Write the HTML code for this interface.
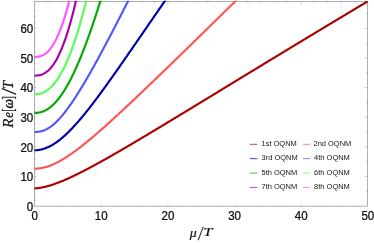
<!DOCTYPE html>
<html><head><meta charset="utf-8"><style>
html,body{margin:0;padding:0;background:#fff;}
body{width:374px;height:243px;overflow:hidden;font-family:"Liberation Sans",sans-serif;}
svg{display:block;}
.sans{font-family:"Liberation Sans",sans-serif;}
.ser{font-family:"Liberation Serif",serif;}
</style></head><body>
<svg width="374" height="243" viewBox="0 0 374 243">
<rect width="374" height="243" fill="#fff"/>
<defs><clipPath id="c"><rect x="34.09" y="0.80" width="333.86" height="205.70"/></clipPath></defs>

<g stroke="#8c8c8c" stroke-width="0.7" fill="none">
<rect x="34.44" y="1.40" width="333.16" height="204.75"/>
</g>
<g stroke="#8c8c8c" stroke-width="0.45">
<line x1="48.02" y1="206.15" x2="48.02" y2="205.15"/>
<line x1="48.02" y1="1.40" x2="48.02" y2="2.90"/>
<line x1="61.34" y1="206.15" x2="61.34" y2="205.15"/>
<line x1="61.34" y1="1.40" x2="61.34" y2="2.90"/>
<line x1="74.67" y1="206.15" x2="74.67" y2="205.15"/>
<line x1="74.67" y1="1.40" x2="74.67" y2="2.90"/>
<line x1="88.00" y1="206.15" x2="88.00" y2="205.15"/>
<line x1="88.00" y1="1.40" x2="88.00" y2="2.90"/>
<line x1="101.32" y1="206.15" x2="101.32" y2="204.55"/>
<line x1="101.32" y1="1.40" x2="101.32" y2="4.60"/>
<line x1="114.65" y1="206.15" x2="114.65" y2="205.15"/>
<line x1="114.65" y1="1.40" x2="114.65" y2="2.90"/>
<line x1="127.97" y1="206.15" x2="127.97" y2="205.15"/>
<line x1="127.97" y1="1.40" x2="127.97" y2="2.90"/>
<line x1="141.30" y1="206.15" x2="141.30" y2="205.15"/>
<line x1="141.30" y1="1.40" x2="141.30" y2="2.90"/>
<line x1="154.63" y1="206.15" x2="154.63" y2="205.15"/>
<line x1="154.63" y1="1.40" x2="154.63" y2="2.90"/>
<line x1="167.95" y1="206.15" x2="167.95" y2="204.55"/>
<line x1="167.95" y1="1.40" x2="167.95" y2="4.60"/>
<line x1="181.28" y1="206.15" x2="181.28" y2="205.15"/>
<line x1="181.28" y1="1.40" x2="181.28" y2="2.90"/>
<line x1="194.61" y1="206.15" x2="194.61" y2="205.15"/>
<line x1="194.61" y1="1.40" x2="194.61" y2="2.90"/>
<line x1="207.93" y1="206.15" x2="207.93" y2="205.15"/>
<line x1="207.93" y1="1.40" x2="207.93" y2="2.90"/>
<line x1="221.26" y1="206.15" x2="221.26" y2="205.15"/>
<line x1="221.26" y1="1.40" x2="221.26" y2="2.90"/>
<line x1="234.59" y1="206.15" x2="234.59" y2="204.55"/>
<line x1="234.59" y1="1.40" x2="234.59" y2="4.60"/>
<line x1="247.91" y1="206.15" x2="247.91" y2="205.15"/>
<line x1="247.91" y1="1.40" x2="247.91" y2="2.90"/>
<line x1="261.24" y1="206.15" x2="261.24" y2="205.15"/>
<line x1="261.24" y1="1.40" x2="261.24" y2="2.90"/>
<line x1="274.57" y1="206.15" x2="274.57" y2="205.15"/>
<line x1="274.57" y1="1.40" x2="274.57" y2="2.90"/>
<line x1="287.89" y1="206.15" x2="287.89" y2="205.15"/>
<line x1="287.89" y1="1.40" x2="287.89" y2="2.90"/>
<line x1="301.22" y1="206.15" x2="301.22" y2="204.55"/>
<line x1="301.22" y1="1.40" x2="301.22" y2="4.60"/>
<line x1="314.54" y1="206.15" x2="314.54" y2="205.15"/>
<line x1="314.54" y1="1.40" x2="314.54" y2="2.90"/>
<line x1="327.87" y1="206.15" x2="327.87" y2="205.15"/>
<line x1="327.87" y1="1.40" x2="327.87" y2="2.90"/>
<line x1="341.20" y1="206.15" x2="341.20" y2="205.15"/>
<line x1="341.20" y1="1.40" x2="341.20" y2="2.90"/>
<line x1="354.52" y1="206.15" x2="354.52" y2="205.15"/>
<line x1="354.52" y1="1.40" x2="354.52" y2="2.90"/>
<line x1="34.44" y1="200.15" x2="35.84" y2="200.15"/>
<line x1="34.44" y1="194.23" x2="35.84" y2="194.23"/>
<line x1="34.44" y1="188.30" x2="35.84" y2="188.30"/>
<line x1="34.44" y1="182.38" x2="35.84" y2="182.38"/>
<line x1="34.44" y1="176.46" x2="36.64" y2="176.46"/>
<line x1="34.44" y1="170.54" x2="35.84" y2="170.54"/>
<line x1="34.44" y1="164.62" x2="35.84" y2="164.62"/>
<line x1="34.44" y1="158.69" x2="35.84" y2="158.69"/>
<line x1="34.44" y1="152.77" x2="35.84" y2="152.77"/>
<line x1="34.44" y1="146.85" x2="36.64" y2="146.85"/>
<line x1="34.44" y1="140.93" x2="35.84" y2="140.93"/>
<line x1="34.44" y1="135.01" x2="35.84" y2="135.01"/>
<line x1="34.44" y1="129.08" x2="35.84" y2="129.08"/>
<line x1="34.44" y1="123.16" x2="35.84" y2="123.16"/>
<line x1="34.44" y1="117.24" x2="36.64" y2="117.24"/>
<line x1="34.44" y1="111.32" x2="35.84" y2="111.32"/>
<line x1="34.44" y1="105.40" x2="35.84" y2="105.40"/>
<line x1="34.44" y1="99.47" x2="35.84" y2="99.47"/>
<line x1="34.44" y1="93.55" x2="35.84" y2="93.55"/>
<line x1="34.44" y1="87.63" x2="36.64" y2="87.63"/>
<line x1="34.44" y1="81.71" x2="35.84" y2="81.71"/>
<line x1="34.44" y1="75.79" x2="35.84" y2="75.79"/>
<line x1="34.44" y1="69.86" x2="35.84" y2="69.86"/>
<line x1="34.44" y1="63.94" x2="35.84" y2="63.94"/>
<line x1="34.44" y1="58.02" x2="36.64" y2="58.02"/>
<line x1="34.44" y1="52.10" x2="35.84" y2="52.10"/>
<line x1="34.44" y1="46.18" x2="35.84" y2="46.18"/>
<line x1="34.44" y1="40.25" x2="35.84" y2="40.25"/>
<line x1="34.44" y1="34.33" x2="35.84" y2="34.33"/>
<line x1="34.44" y1="28.41" x2="36.64" y2="28.41"/>
<line x1="34.44" y1="22.49" x2="35.84" y2="22.49"/>
<line x1="34.44" y1="16.57" x2="35.84" y2="16.57"/>
<line x1="34.44" y1="10.64" x2="35.84" y2="10.64"/>
<line x1="34.44" y1="4.72" x2="35.84" y2="4.72"/>
<line x1="367.60" y1="191.26" x2="365.90" y2="191.26"/>
<line x1="367.60" y1="176.46" x2="364.30" y2="176.46"/>
<line x1="367.60" y1="161.66" x2="365.90" y2="161.66"/>
<line x1="367.60" y1="146.85" x2="364.30" y2="146.85"/>
<line x1="367.60" y1="132.05" x2="365.90" y2="132.05"/>
<line x1="367.60" y1="117.24" x2="364.30" y2="117.24"/>
<line x1="367.60" y1="102.44" x2="365.90" y2="102.44"/>
<line x1="367.60" y1="87.63" x2="364.30" y2="87.63"/>
<line x1="367.60" y1="72.82" x2="365.90" y2="72.82"/>
<line x1="367.60" y1="58.02" x2="364.30" y2="58.02"/>
<line x1="367.60" y1="43.22" x2="365.90" y2="43.22"/>
<line x1="367.60" y1="28.41" x2="364.30" y2="28.41"/>
<line x1="367.60" y1="13.60" x2="365.90" y2="13.60"/>
</g>
<g clip-path="url(#c)" fill="none" stroke-width="2.15" stroke-linejoin="round">
<path d="M34.44 188.37 L35.11 188.36 L35.77 188.32 L36.44 188.28 L37.11 188.22 L37.77 188.16 L38.44 188.08 L39.10 187.99 L39.77 187.90 L40.44 187.79 L41.10 187.68 L41.77 187.56 L42.44 187.43 L43.10 187.29 L43.77 187.15 L44.43 187.00 L45.10 186.84 L45.77 186.68 L46.43 186.51 L47.10 186.33 L47.77 186.15 L48.43 185.96 L49.10 185.77 L49.77 185.57 L50.43 185.37 L51.10 185.16 L51.76 184.95 L52.43 184.73 L53.10 184.51 L53.76 184.28 L54.43 184.05 L55.10 183.81 L55.76 183.57 L56.43 183.33 L57.09 183.08 L57.76 182.83 L58.43 182.58 L59.09 182.32 L59.76 182.05 L60.43 181.79 L61.09 181.52 L61.76 181.25 L62.43 180.97 L63.09 180.69 L63.76 180.41 L64.42 180.13 L65.09 179.84 L65.76 179.55 L66.42 179.26 L67.09 178.96 L67.76 178.66 L68.42 178.36 L69.09 178.06 L69.75 177.75 L70.42 177.45 L71.09 177.14 L71.75 176.82 L72.42 176.51 L73.09 176.19 L73.75 175.88 L74.42 175.56 L75.09 175.23 L75.75 174.91 L76.42 174.59 L77.08 174.26 L77.75 173.93 L78.42 173.60 L79.08 173.27 L79.75 172.93 L80.42 172.60 L81.08 172.26 L81.75 171.92 L82.42 171.58 L83.08 171.24 L83.75 170.89 L84.41 170.55 L85.08 170.20 L85.75 169.86 L86.41 169.51 L87.08 169.16 L87.75 168.81 L88.41 168.46 L89.08 168.10 L89.74 167.75 L90.41 167.40 L91.08 167.04 L91.74 166.68 L92.41 166.32 L93.08 165.96 L93.74 165.60 L94.41 165.24 L95.08 164.88 L95.74 164.52 L96.41 164.15 L97.07 163.79 L97.74 163.42 L98.41 163.06 L99.07 162.69 L99.74 162.32 L100.41 161.95 L101.07 161.58 L101.74 161.21 L102.40 160.84 L103.07 160.47 L103.74 160.09 L104.40 159.72 L105.07 159.35 L105.74 158.97 L106.40 158.60 L107.07 158.22 L107.74 157.84 L108.40 157.47 L109.07 157.09 L109.73 156.71 L110.40 156.33 L111.07 155.95 L111.73 155.57 L112.40 155.19 L113.07 154.81 L113.73 154.43 L114.40 154.05 L115.06 153.66 L115.73 153.28 L116.40 152.90 L117.06 152.51 L117.73 152.13 L118.40 151.74 L119.06 151.36 L119.73 150.97 L120.40 150.58 L121.06 150.20 L121.73 149.81 L122.39 149.42 L123.06 149.03 L123.73 148.65 L124.39 148.26 L125.06 147.87 L125.73 147.48 L126.39 147.09 L127.06 146.70 L127.72 146.31 L128.39 145.92 L129.06 145.53 L129.72 145.13 L130.39 144.74 L131.06 144.35 L131.72 143.96 L132.39 143.57 L133.06 143.17 L133.72 142.78 L134.39 142.39 L135.05 141.99 L135.72 141.60 L136.39 141.20 L137.05 140.81 L137.72 140.41 L138.39 140.02 L139.05 139.62 L139.72 139.23 L140.38 138.83 L141.05 138.44 L141.72 138.04 L142.38 137.64 L143.05 137.25 L143.72 136.85 L144.38 136.45 L145.05 136.06 L145.72 135.66 L146.38 135.26 L147.05 134.86 L147.71 134.46 L148.38 134.07 L149.05 133.67 L149.71 133.27 L150.38 132.87 L151.05 132.47 L151.71 132.07 L152.38 131.67 L153.04 131.27 L153.71 130.87 L154.38 130.47 L155.04 130.07 L155.71 129.67 L156.38 129.27 L157.04 128.87 L157.71 128.47 L158.38 128.07 L159.04 127.67 L159.71 127.27 L160.37 126.87 L161.04 126.47 L161.71 126.06 L162.37 125.66 L163.04 125.26 L163.71 124.86 L164.37 124.46 L165.04 124.05 L165.71 123.65 L166.37 123.25 L167.04 122.85 L167.70 122.45 L168.37 122.04 L169.04 121.64 L169.70 121.24 L170.37 120.83 L171.04 120.43 L171.70 120.03 L172.37 119.63 L173.03 119.22 L173.70 118.82 L174.37 118.42 L175.03 118.01 L175.70 117.61 L176.37 117.20 L177.03 116.80 L177.70 116.40 L178.37 115.99 L179.03 115.59 L179.70 115.19 L180.36 114.78 L181.03 114.38 L181.70 113.97 L182.36 113.57 L183.03 113.16 L183.70 112.76 L184.36 112.36 L185.03 111.95 L185.69 111.55 L186.36 111.14 L187.03 110.74 L187.69 110.33 L188.36 109.93 L189.03 109.52 L189.69 109.12 L190.36 108.71 L191.03 108.31 L191.69 107.90 L192.36 107.50 L193.02 107.09 L193.69 106.69 L194.36 106.28 L195.02 105.88 L195.69 105.47 L196.36 105.07 L197.02 104.66 L197.69 104.25 L198.35 103.85 L199.02 103.44 L199.69 103.04 L200.35 102.63 L201.02 102.23 L201.69 101.82 L202.35 101.42 L203.02 101.01 L203.69 100.60 L204.35 100.20 L205.02 99.79 L205.68 99.39 L206.35 98.98 L207.02 98.58 L207.68 98.17 L208.35 97.76 L209.02 97.36 L209.68 96.95 L210.35 96.55 L211.01 96.14 L211.68 95.74 L212.35 95.33 L213.01 94.92 L213.68 94.52 L214.35 94.11 L215.01 93.71 L215.68 93.30 L216.35 92.89 L217.01 92.49 L217.68 92.08 L218.34 91.68 L219.01 91.27 L219.68 90.86 L220.34 90.46 L221.01 90.05 L221.68 89.65 L222.34 89.24 L223.01 88.83 L223.67 88.43 L224.34 88.02 L225.01 87.62 L225.67 87.21 L226.34 86.80 L227.01 86.40 L227.67 85.99 L228.34 85.59 L229.01 85.18 L229.67 84.77 L230.34 84.37 L231.00 83.96 L231.67 83.56 L232.34 83.15 L233.00 82.74 L233.67 82.34 L234.34 81.93 L235.00 81.53 L235.67 81.12 L236.33 80.71 L237.00 80.31 L237.67 79.90 L238.33 79.50 L239.00 79.09 L239.67 78.69 L240.33 78.28 L241.00 77.87 L241.67 77.47 L242.33 77.06 L243.00 76.66 L243.66 76.25 L244.33 75.84 L245.00 75.44 L245.66 75.03 L246.33 74.63 L247.00 74.22 L247.66 73.82 L248.33 73.41 L249.00 73.01 L249.66 72.60 L250.33 72.19 L250.99 71.79 L251.66 71.38 L252.33 70.98 L252.99 70.57 L253.66 70.17 L254.33 69.76 L254.99 69.36 L255.66 68.95 L256.32 68.55 L256.99 68.14 L257.66 67.73 L258.32 67.33 L258.99 66.92 L259.66 66.52 L260.32 66.11 L260.99 65.71 L261.66 65.30 L262.32 64.90 L262.99 64.49 L263.65 64.09 L264.32 63.68 L264.99 63.28 L265.65 62.87 L266.32 62.47 L266.99 62.06 L267.65 61.66 L268.32 61.25 L268.98 60.85 L269.65 60.44 L270.32 60.04 L270.98 59.64 L271.65 59.23 L272.32 58.83 L272.98 58.42 L273.65 58.02 L274.32 57.61 L274.98 57.21 L275.65 56.80 L276.31 56.40 L276.98 55.99 L277.65 55.59 L278.31 55.19 L278.98 54.78 L279.65 54.38 L280.31 53.97 L280.98 53.57 L281.64 53.16 L282.31 52.76 L282.98 52.36 L283.64 51.95 L284.31 51.55 L284.98 51.14 L285.64 50.74 L286.31 50.34 L286.98 49.93 L287.64 49.53 L288.31 49.13 L288.97 48.72 L289.64 48.32 L290.31 47.91 L290.97 47.51 L291.64 47.11 L292.31 46.70 L292.97 46.30 L293.64 45.90 L294.30 45.49 L294.97 45.09 L295.64 44.69 L296.30 44.28 L296.97 43.88 L297.64 43.48 L298.30 43.07 L298.97 42.67 L299.64 42.27 L300.30 41.87 L300.97 41.46 L301.63 41.06 L302.30 40.66 L302.97 40.25 L303.63 39.85 L304.30 39.45 L304.97 39.05 L305.63 38.64 L306.30 38.24 L306.96 37.84 L307.63 37.44 L308.30 37.03 L308.96 36.63 L309.63 36.23 L310.30 35.83 L310.96 35.42 L311.63 35.02 L312.30 34.62 L312.96 34.22 L313.63 33.81 L314.29 33.41 L314.96 33.01 L315.63 32.61 L316.29 32.21 L316.96 31.80 L317.63 31.40 L318.29 31.00 L318.96 30.60 L319.62 30.20 L320.29 29.80 L320.96 29.39 L321.62 28.99 L322.29 28.59 L322.96 28.19 L323.62 27.79 L324.29 27.39 L324.96 26.99 L325.62 26.59 L326.29 26.18 L326.95 25.78 L327.62 25.38 L328.29 24.98 L328.95 24.58 L329.62 24.18 L330.29 23.78 L330.95 23.38 L331.62 22.98 L332.29 22.58 L332.95 22.18 L333.62 21.78 L334.28 21.37 L334.95 20.97 L335.62 20.57 L336.28 20.17 L336.95 19.77 L337.62 19.37 L338.28 18.97 L338.95 18.57 L339.61 18.17 L340.28 17.77 L340.95 17.37 L341.61 16.97 L342.28 16.57 L342.95 16.17 L343.61 15.77 L344.28 15.37 L344.95 14.97 L345.61 14.57 L346.28 14.17 L346.94 13.77 L347.61 13.38 L348.28 12.98 L348.94 12.58 L349.61 12.18 L350.28 11.78 L350.94 11.38 L351.61 10.98 L352.27 10.58 L352.94 10.18 L353.61 9.78 L354.27 9.38 L354.94 8.98 L355.61 8.59 L356.27 8.19 L356.94 7.79 L357.61 7.39 L358.27 6.99 L358.94 6.59 L359.60 6.19 L360.27 5.80 L360.94 5.40 L361.60 5.00 L362.27 4.60 L362.94 4.20 L363.60 3.80 L364.27 3.41 L364.93 3.01 L365.60 2.61 L366.27 2.21 L366.93 1.81 L367.60 1.42" stroke="#aa0000"/>
<path d="M34.44 168.65 L35.11 168.65 L35.77 168.63 L36.44 168.60 L37.11 168.57 L37.77 168.52 L38.44 168.45 L39.10 168.38 L39.77 168.30 L40.44 168.21 L41.10 168.10 L41.77 167.98 L42.44 167.86 L43.10 167.72 L43.77 167.57 L44.43 167.41 L45.10 167.24 L45.77 167.06 L46.43 166.87 L47.10 166.67 L47.77 166.45 L48.43 166.23 L49.10 166.00 L49.77 165.76 L50.43 165.51 L51.10 165.25 L51.76 164.99 L52.43 164.71 L53.10 164.42 L53.76 164.13 L54.43 163.83 L55.10 163.51 L55.76 163.19 L56.43 162.87 L57.09 162.53 L57.76 162.19 L58.43 161.84 L59.09 161.48 L59.76 161.12 L60.43 160.75 L61.09 160.37 L61.76 159.98 L62.43 159.59 L63.09 159.19 L63.76 158.79 L64.42 158.38 L65.09 157.96 L65.76 157.54 L66.42 157.11 L67.09 156.68 L67.76 156.24 L68.42 155.80 L69.09 155.35 L69.75 154.90 L70.42 154.44 L71.09 153.98 L71.75 153.51 L72.42 153.04 L73.09 152.57 L73.75 152.09 L74.42 151.60 L75.09 151.11 L75.75 150.62 L76.42 150.13 L77.08 149.63 L77.75 149.12 L78.42 148.62 L79.08 148.11 L79.75 147.59 L80.42 147.08 L81.08 146.56 L81.75 146.04 L82.42 145.51 L83.08 144.98 L83.75 144.45 L84.41 143.92 L85.08 143.38 L85.75 142.84 L86.41 142.30 L87.08 141.75 L87.75 141.21 L88.41 140.66 L89.08 140.10 L89.74 139.55 L90.41 138.99 L91.08 138.44 L91.74 137.88 L92.41 137.31 L93.08 136.75 L93.74 136.18 L94.41 135.61 L95.08 135.04 L95.74 134.47 L96.41 133.90 L97.07 133.32 L97.74 132.74 L98.41 132.17 L99.07 131.59 L99.74 131.00 L100.41 130.42 L101.07 129.83 L101.74 129.25 L102.40 128.66 L103.07 128.07 L103.74 127.48 L104.40 126.89 L105.07 126.30 L105.74 125.70 L106.40 125.10 L107.07 124.51 L107.74 123.91 L108.40 123.31 L109.07 122.71 L109.73 122.11 L110.40 121.51 L111.07 120.90 L111.73 120.30 L112.40 119.69 L113.07 119.08 L113.73 118.48 L114.40 117.87 L115.06 117.26 L115.73 116.65 L116.40 116.04 L117.06 115.42 L117.73 114.81 L118.40 114.20 L119.06 113.58 L119.73 112.97 L120.40 112.35 L121.06 111.73 L121.73 111.12 L122.39 110.50 L123.06 109.88 L123.73 109.26 L124.39 108.64 L125.06 108.02 L125.73 107.39 L126.39 106.77 L127.06 106.15 L127.72 105.52 L128.39 104.90 L129.06 104.27 L129.72 103.65 L130.39 103.02 L131.06 102.39 L131.72 101.77 L132.39 101.14 L133.06 100.51 L133.72 99.88 L134.39 99.25 L135.05 98.62 L135.72 97.99 L136.39 97.36 L137.05 96.73 L137.72 96.10 L138.39 95.47 L139.05 94.83 L139.72 94.20 L140.38 93.57 L141.05 92.93 L141.72 92.30 L142.38 91.66 L143.05 91.03 L143.72 90.39 L144.38 89.76 L145.05 89.12 L145.72 88.48 L146.38 87.85 L147.05 87.21 L147.71 86.57 L148.38 85.93 L149.05 85.29 L149.71 84.66 L150.38 84.02 L151.05 83.38 L151.71 82.74 L152.38 82.10 L153.04 81.46 L153.71 80.82 L154.38 80.18 L155.04 79.54 L155.71 78.89 L156.38 78.25 L157.04 77.61 L157.71 76.97 L158.38 76.33 L159.04 75.68 L159.71 75.04 L160.37 74.40 L161.04 73.75 L161.71 73.11 L162.37 72.47 L163.04 71.82 L163.71 71.18 L164.37 70.53 L165.04 69.89 L165.71 69.24 L166.37 68.60 L167.04 67.95 L167.70 67.31 L168.37 66.66 L169.04 66.02 L169.70 65.37 L170.37 64.73 L171.04 64.08 L171.70 63.43 L172.37 62.79 L173.03 62.14 L173.70 61.49 L174.37 60.84 L175.03 60.20 L175.70 59.55 L176.37 58.90 L177.03 58.25 L177.70 57.61 L178.37 56.96 L179.03 56.31 L179.70 55.66 L180.36 55.01 L181.03 54.37 L181.70 53.72 L182.36 53.07 L183.03 52.42 L183.70 51.77 L184.36 51.12 L185.03 50.47 L185.69 49.82 L186.36 49.17 L187.03 48.52 L187.69 47.87 L188.36 47.22 L189.03 46.57 L189.69 45.92 L190.36 45.27 L191.03 44.62 L191.69 43.97 L192.36 43.32 L193.02 42.67 L193.69 42.02 L194.36 41.37 L195.02 40.72 L195.69 40.07 L196.36 39.42 L197.02 38.77 L197.69 38.11 L198.35 37.46 L199.02 36.81 L199.69 36.16 L200.35 35.51 L201.02 34.86 L201.69 34.21 L202.35 33.55 L203.02 32.90 L203.69 32.25 L204.35 31.60 L205.02 30.95 L205.68 30.30 L206.35 29.64 L207.02 28.99 L207.68 28.34 L208.35 27.69 L209.02 27.03 L209.68 26.38 L210.35 25.73 L211.01 25.08 L211.68 24.43 L212.35 23.77 L213.01 23.12 L213.68 22.47 L214.35 21.82 L215.01 21.16 L215.68 20.51 L216.35 19.86 L217.01 19.20 L217.68 18.55 L218.34 17.90 L219.01 17.25 L219.68 16.59 L220.34 15.94 L221.01 15.29 L221.68 14.63 L222.34 13.98 L223.01 13.33 L223.67 12.68 L224.34 12.02 L225.01 11.37 L225.67 10.72 L226.34 10.06 L227.01 9.41 L227.67 8.76 L228.34 8.10 L229.01 7.45 L229.67 6.80 L230.34 6.14 L231.00 5.49 L231.67 4.84 L232.34 4.18 L233.00 3.53 L233.67 2.88 L234.34 2.22 L235.00 1.57 L235.67 0.92 L236.33 0.26 L237.00 -0.39 L237.67 -1.04 L238.33 -1.70 L239.00 -2.35 L239.67 -3.00 L240.33 -3.66 L241.00 -4.31 L241.67 -4.96 L242.33 -5.62 L243.00 -6.27 L243.66 -6.92 L244.33 -7.58 L245.00 -8.23 L245.66 -8.88 L246.33 -9.54 L247.00 -10.19 L247.66 -10.84 L248.33 -11.50 L249.00 -12.15 L249.66 -12.80 L250.33 -13.46 L250.99 -14.11 L251.66 -14.76 L252.33 -15.42 L252.99 -16.07 L253.66 -16.72" stroke="#ff5555"/>
<path d="M34.44 150.29 L35.11 150.28 L35.77 150.26 L36.44 150.23 L37.11 150.17 L37.77 150.11 L38.44 150.02 L39.10 149.93 L39.77 149.81 L40.44 149.69 L41.10 149.54 L41.77 149.38 L42.44 149.21 L43.10 149.02 L43.77 148.82 L44.43 148.60 L45.10 148.37 L45.77 148.12 L46.43 147.86 L47.10 147.58 L47.77 147.29 L48.43 146.99 L49.10 146.67 L49.77 146.33 L50.43 145.99 L51.10 145.63 L51.76 145.25 L52.43 144.87 L53.10 144.47 L53.76 144.05 L54.43 143.63 L55.10 143.19 L55.76 142.74 L56.43 142.28 L57.09 141.80 L57.76 141.31 L58.43 140.81 L59.09 140.30 L59.76 139.78 L60.43 139.25 L61.09 138.71 L61.76 138.15 L62.43 137.59 L63.09 137.01 L63.76 136.43 L64.42 135.83 L65.09 135.23 L65.76 134.61 L66.42 133.99 L67.09 133.35 L67.76 132.71 L68.42 132.06 L69.09 131.40 L69.75 130.73 L70.42 130.06 L71.09 129.37 L71.75 128.68 L72.42 127.98 L73.09 127.27 L73.75 126.55 L74.42 125.83 L75.09 125.10 L75.75 124.36 L76.42 123.62 L77.08 122.87 L77.75 122.11 L78.42 121.35 L79.08 120.58 L79.75 119.80 L80.42 119.02 L81.08 118.23 L81.75 117.44 L82.42 116.64 L83.08 115.84 L83.75 115.03 L84.41 114.22 L85.08 113.40 L85.75 112.57 L86.41 111.74 L87.08 110.91 L87.75 110.07 L88.41 109.23 L89.08 108.39 L89.74 107.53 L90.41 106.68 L91.08 105.82 L91.74 104.96 L92.41 104.09 L93.08 103.22 L93.74 102.35 L94.41 101.47 L95.08 100.59 L95.74 99.71 L96.41 98.82 L97.07 97.93 L97.74 97.04 L98.41 96.15 L99.07 95.25 L99.74 94.35 L100.41 93.44 L101.07 92.54 L101.74 91.63 L102.40 90.72 L103.07 89.80 L103.74 88.89 L104.40 87.97 L105.07 87.05 L105.74 86.12 L106.40 85.20 L107.07 84.27 L107.74 83.35 L108.40 82.42 L109.07 81.48 L109.73 80.55 L110.40 79.61 L111.07 78.68 L111.73 77.74 L112.40 76.80 L113.07 75.86 L113.73 74.91 L114.40 73.97 L115.06 73.02 L115.73 72.08 L116.40 71.13 L117.06 70.18 L117.73 69.23 L118.40 68.28 L119.06 67.32 L119.73 66.37 L120.40 65.41 L121.06 64.46 L121.73 63.50 L122.39 62.54 L123.06 61.59 L123.73 60.63 L124.39 59.67 L125.06 58.71 L125.73 57.75 L126.39 56.78 L127.06 55.82 L127.72 54.86 L128.39 53.90 L129.06 52.93 L129.72 51.97 L130.39 51.00 L131.06 50.04 L131.72 49.07 L132.39 48.11 L133.06 47.14 L133.72 46.17 L134.39 45.21 L135.05 44.24 L135.72 43.27 L136.39 42.31 L137.05 41.34 L137.72 40.37 L138.39 39.40 L139.05 38.44 L139.72 37.47 L140.38 36.50 L141.05 35.53 L141.72 34.56 L142.38 33.60 L143.05 32.63 L143.72 31.66 L144.38 30.69 L145.05 29.72 L145.72 28.76 L146.38 27.79 L147.05 26.82 L147.71 25.85 L148.38 24.89 L149.05 23.92 L149.71 22.95 L150.38 21.99 L151.05 21.02 L151.71 20.05 L152.38 19.09 L153.04 18.12 L153.71 17.16 L154.38 16.19 L155.04 15.23 L155.71 14.27 L156.38 13.30 L157.04 12.34 L157.71 11.38 L158.38 10.41 L159.04 9.45 L159.71 8.49 L160.37 7.53 L161.04 6.57 L161.71 5.61 L162.37 4.65 L163.04 3.69 L163.71 2.73 L164.37 1.77 L165.04 0.82 L165.71 -0.14 L166.37 -1.10 L167.04 -2.05 L167.70 -3.01 L168.37 -3.96 L169.04 -4.92 L169.70 -5.87 L170.37 -6.82 L171.04 -7.77 L171.70 -8.73 L172.37 -9.68 L173.03 -10.63 L173.70 -11.58 L174.37 -12.53 L175.03 -13.47 L175.70 -14.42 L176.37 -15.37 L177.03 -16.31 L177.70 -17.26" stroke="#0000aa"/>
<path d="M34.44 131.98 L35.11 131.97 L35.77 131.96 L36.44 131.93 L37.11 131.89 L37.77 131.83 L38.44 131.75 L39.10 131.66 L39.77 131.54 L40.44 131.41 L41.10 131.26 L41.77 131.08 L42.44 130.89 L43.10 130.67 L43.77 130.43 L44.43 130.17 L45.10 129.89 L45.77 129.59 L46.43 129.27 L47.10 128.92 L47.77 128.55 L48.43 128.16 L49.10 127.75 L49.77 127.31 L50.43 126.86 L51.10 126.38 L51.76 125.88 L52.43 125.36 L53.10 124.82 L53.76 124.26 L54.43 123.68 L55.10 123.08 L55.76 122.47 L56.43 121.83 L57.09 121.17 L57.76 120.50 L58.43 119.81 L59.09 119.10 L59.76 118.37 L60.43 117.63 L61.09 116.87 L61.76 116.09 L62.43 115.30 L63.09 114.49 L63.76 113.67 L64.42 112.84 L65.09 111.99 L65.76 111.13 L66.42 110.25 L67.09 109.36 L67.76 108.46 L68.42 107.55 L69.09 106.62 L69.75 105.68 L70.42 104.74 L71.09 103.78 L71.75 102.81 L72.42 101.83 L73.09 100.84 L73.75 99.84 L74.42 98.83 L75.09 97.81 L75.75 96.78 L76.42 95.74 L77.08 94.70 L77.75 93.65 L78.42 92.59 L79.08 91.52 L79.75 90.44 L80.42 89.36 L81.08 88.27 L81.75 87.17 L82.42 86.07 L83.08 84.96 L83.75 83.84 L84.41 82.72 L85.08 81.59 L85.75 80.46 L86.41 79.32 L87.08 78.17 L87.75 77.02 L88.41 75.86 L89.08 74.70 L89.74 73.53 L90.41 72.36 L91.08 71.19 L91.74 70.01 L92.41 68.82 L93.08 67.63 L93.74 66.44 L94.41 65.24 L95.08 64.04 L95.74 62.84 L96.41 61.63 L97.07 60.41 L97.74 59.20 L98.41 57.98 L99.07 56.75 L99.74 55.52 L100.41 54.29 L101.07 53.06 L101.74 51.82 L102.40 50.58 L103.07 49.34 L103.74 48.09 L104.40 46.85 L105.07 45.59 L105.74 44.34 L106.40 43.08 L107.07 41.82 L107.74 40.56 L108.40 39.30 L109.07 38.03 L109.73 36.76 L110.40 35.49 L111.07 34.21 L111.73 32.93 L112.40 31.66 L113.07 30.37 L113.73 29.09 L114.40 27.80 L115.06 26.52 L115.73 25.23 L116.40 23.94 L117.06 22.64 L117.73 21.35 L118.40 20.05 L119.06 18.75 L119.73 17.45 L120.40 16.15 L121.06 14.84 L121.73 13.53 L122.39 12.23 L123.06 10.92 L123.73 9.60 L124.39 8.29 L125.06 6.98 L125.73 5.66 L126.39 4.34 L127.06 3.02 L127.72 1.70 L128.39 0.38 L129.06 -0.94 L129.72 -2.27 L130.39 -3.60 L131.06 -4.92 L131.72 -6.25 L132.39 -7.58 L133.06 -8.92 L133.72 -10.25 L134.39 -11.59 L135.05 -12.92 L135.72 -14.26 L136.39 -15.60 L137.05 -16.94" stroke="#5555ff"/>
<path d="M34.44 112.93 L35.11 112.92 L35.77 112.90 L36.44 112.87 L37.11 112.81 L37.77 112.74 L38.44 112.65 L39.10 112.53 L39.77 112.40 L40.44 112.24 L41.10 112.06 L41.77 111.86 L42.44 111.64 L43.10 111.39 L43.77 111.12 L44.43 110.83 L45.10 110.51 L45.77 110.17 L46.43 109.81 L47.10 109.41 L47.77 109.00 L48.43 108.56 L49.10 108.09 L49.77 107.60 L50.43 107.08 L51.10 106.54 L51.76 105.97 L52.43 105.38 L53.10 104.76 L53.76 104.11 L54.43 103.44 L55.10 102.75 L55.76 102.02 L56.43 101.28 L57.09 100.50 L57.76 99.70 L58.43 98.88 L59.09 98.03 L59.76 97.15 L60.43 96.25 L61.09 95.32 L61.76 94.36 L62.43 93.38 L63.09 92.38 L63.76 91.35 L64.42 90.30 L65.09 89.22 L65.76 88.11 L66.42 86.98 L67.09 85.83 L67.76 84.65 L68.42 83.45 L69.09 82.23 L69.75 80.98 L70.42 79.70 L71.09 78.40 L71.75 77.08 L72.42 75.74 L73.09 74.37 L73.75 72.98 L74.42 71.57 L75.09 70.13 L75.75 68.68 L76.42 67.20 L77.08 65.70 L77.75 64.17 L78.42 62.63 L79.08 61.06 L79.75 59.47 L80.42 57.86 L81.08 56.23 L81.75 54.58 L82.42 52.91 L83.08 51.22 L83.75 49.51 L84.41 47.78 L85.08 46.03 L85.75 44.26 L86.41 42.47 L87.08 40.67 L87.75 38.84 L88.41 37.00 L89.08 35.13 L89.74 33.25 L90.41 31.35 L91.08 29.44 L91.74 27.50 L92.41 25.55 L93.08 23.58 L93.74 21.59 L94.41 19.59 L95.08 17.57 L95.74 15.54 L96.41 13.48 L97.07 11.42 L97.74 9.33 L98.41 7.23 L99.07 5.12 L99.74 2.99 L100.41 0.84 L101.07 -1.32 L101.74 -3.49 L102.40 -5.68 L103.07 -7.89 L103.74 -10.11 L104.40 -12.34 L105.07 -14.59 L105.74 -16.85" stroke="#00aa00"/>
<path d="M34.44 94.25 L35.11 94.24 L35.77 94.23 L36.44 94.19 L37.11 94.14 L37.77 94.06 L38.44 93.97 L39.10 93.85 L39.77 93.71 L40.44 93.55 L41.10 93.36 L41.77 93.14 L42.44 92.90 L43.10 92.63 L43.77 92.33 L44.43 92.00 L45.10 91.64 L45.77 91.26 L46.43 90.84 L47.10 90.40 L47.77 89.92 L48.43 89.41 L49.10 88.87 L49.77 88.30 L50.43 87.70 L51.10 87.06 L51.76 86.39 L52.43 85.69 L53.10 84.95 L53.76 84.18 L54.43 83.38 L55.10 82.54 L55.76 81.66 L56.43 80.75 L57.09 79.80 L57.76 78.82 L58.43 77.80 L59.09 76.75 L59.76 75.66 L60.43 74.53 L61.09 73.37 L61.76 72.17 L62.43 70.93 L63.09 69.65 L63.76 68.34 L64.42 66.99 L65.09 65.60 L65.76 64.17 L66.42 62.70 L67.09 61.20 L67.76 59.65 L68.42 58.07 L69.09 56.45 L69.75 54.78 L70.42 53.08 L71.09 51.34 L71.75 49.56 L72.42 47.74 L73.09 45.88 L73.75 43.98 L74.42 42.04 L75.09 40.06 L75.75 38.04 L76.42 35.97 L77.08 33.87 L77.75 31.73 L78.42 29.54 L79.08 27.32 L79.75 25.05 L80.42 22.75 L81.08 20.40 L81.75 18.01 L82.42 15.58 L83.08 13.10 L83.75 10.59 L84.41 8.04 L85.08 5.44 L85.75 2.80 L86.41 0.12 L87.08 -2.60 L87.75 -5.36 L88.41 -8.17 L89.08 -11.02 L89.74 -13.91 L90.41 -16.84" stroke="#55ff55"/>
<path d="M34.44 75.57 L35.11 75.57 L35.77 75.55 L36.44 75.52 L37.11 75.48 L37.77 75.41 L38.44 75.32 L39.10 75.21 L39.77 75.08 L40.44 74.91 L41.10 74.72 L41.77 74.50 L42.44 74.24 L43.10 73.96 L43.77 73.63 L44.43 73.28 L45.10 72.89 L45.77 72.46 L46.43 71.99 L47.10 71.48 L47.77 70.93 L48.43 70.34 L49.10 69.70 L49.77 69.03 L50.43 68.31 L51.10 67.54 L51.76 66.73 L52.43 65.87 L53.10 64.96 L53.76 64.00 L54.43 63.00 L55.10 61.94 L55.76 60.84 L56.43 59.68 L57.09 58.47 L57.76 57.21 L58.43 55.89 L59.09 54.53 L59.76 53.10 L60.43 51.63 L61.09 50.10 L61.76 48.51 L62.43 46.86 L63.09 45.16 L63.76 43.41 L64.42 41.59 L65.09 39.72 L65.76 37.79 L66.42 35.80 L67.09 33.75 L67.76 31.65 L68.42 29.48 L69.09 27.26 L69.75 24.97 L70.42 22.63 L71.09 20.23 L71.75 17.76 L72.42 15.24 L73.09 12.65 L73.75 10.00 L74.42 7.30 L75.09 4.53 L75.75 1.70 L76.42 -1.19 L77.08 -4.14 L77.75 -7.15 L78.42 -10.22 L79.08 -13.36 L79.75 -16.55" stroke="#aa00aa"/>
<path d="M34.44 56.92 L35.11 56.91 L35.77 56.90 L36.44 56.86 L37.11 56.81 L37.77 56.73 L38.44 56.63 L39.10 56.50 L39.77 56.34 L40.44 56.15 L41.10 55.93 L41.77 55.67 L42.44 55.38 L43.10 55.05 L43.77 54.68 L44.43 54.27 L45.10 53.82 L45.77 53.32 L46.43 52.78 L47.10 52.19 L47.77 51.56 L48.43 50.88 L49.10 50.16 L49.77 49.38 L50.43 48.55 L51.10 47.67 L51.76 46.74 L52.43 45.75 L53.10 44.71 L53.76 43.61 L54.43 42.46 L55.10 41.25 L55.76 39.98 L56.43 38.66 L57.09 37.27 L57.76 35.82 L58.43 34.32 L59.09 32.75 L59.76 31.12 L60.43 29.42 L61.09 27.66 L61.76 25.84 L62.43 23.95 L63.09 22.00 L63.76 19.98 L64.42 17.90 L65.09 15.75 L65.76 13.53 L66.42 11.24 L67.09 8.88 L67.76 6.46 L68.42 3.96 L69.09 1.40 L69.75 -1.24 L70.42 -3.94 L71.09 -6.72 L71.75 -9.57 L72.42 -12.49 L73.09 -15.48 L73.75 -18.54" stroke="#ff55ff"/>
</g>
<text class="sans" transform="translate(34.64 219.50) scale(0.93 1)" font-size="12.4" text-anchor="middle" fill="#0a0a0a" stroke="#0a0a0a" stroke-width="0.25">0</text>
<text class="sans" transform="translate(101.27 219.50) scale(0.93 1)" font-size="12.4" text-anchor="middle" fill="#0a0a0a" stroke="#0a0a0a" stroke-width="0.25">10</text>
<text class="sans" transform="translate(167.90 219.50) scale(0.93 1)" font-size="12.4" text-anchor="middle" fill="#0a0a0a" stroke="#0a0a0a" stroke-width="0.25">20</text>
<text class="sans" transform="translate(234.54 219.50) scale(0.93 1)" font-size="12.4" text-anchor="middle" fill="#0a0a0a" stroke="#0a0a0a" stroke-width="0.25">30</text>
<text class="sans" transform="translate(301.17 219.50) scale(0.93 1)" font-size="12.4" text-anchor="middle" fill="#0a0a0a" stroke="#0a0a0a" stroke-width="0.25">40</text>
<text class="sans" transform="translate(367.80 219.50) scale(0.93 1)" font-size="12.4" text-anchor="middle" fill="#0a0a0a" stroke="#0a0a0a" stroke-width="0.25">50</text>
<text class="sans" transform="translate(33.25 210.92) scale(0.93 1)" font-size="12.4" text-anchor="end" fill="#0a0a0a" stroke="#0a0a0a" stroke-width="0.25">0</text>
<text class="sans" transform="translate(33.25 181.31) scale(0.93 1)" font-size="12.4" text-anchor="end" fill="#0a0a0a" stroke="#0a0a0a" stroke-width="0.25">10</text>
<text class="sans" transform="translate(33.25 151.70) scale(0.93 1)" font-size="12.4" text-anchor="end" fill="#0a0a0a" stroke="#0a0a0a" stroke-width="0.25">20</text>
<text class="sans" transform="translate(33.25 122.09) scale(0.93 1)" font-size="12.4" text-anchor="end" fill="#0a0a0a" stroke="#0a0a0a" stroke-width="0.25">30</text>
<text class="sans" transform="translate(33.25 92.48) scale(0.93 1)" font-size="12.4" text-anchor="end" fill="#0a0a0a" stroke="#0a0a0a" stroke-width="0.25">40</text>
<text class="sans" transform="translate(33.25 62.87) scale(0.93 1)" font-size="12.4" text-anchor="end" fill="#0a0a0a" stroke="#0a0a0a" stroke-width="0.25">50</text>
<text class="sans" transform="translate(33.25 33.26) scale(0.93 1)" font-size="12.4" text-anchor="end" fill="#0a0a0a" stroke="#0a0a0a" stroke-width="0.25">60</text>
<text transform="translate(189.650 237.443) scale(0.1383 0.1194)" class="ser" font-style="italic" font-size="100" fill="#111" stroke="#111" stroke-width="1.5">μ</text>
<text transform="translate(198.388 239.871) scale(0.1418 0.1789)" class="ser" font-style="italic" font-size="100" fill="#111" stroke="#111" stroke-width="1.5">/</text>
<text transform="translate(203.286 236.350) scale(0.1636 0.1200)" class="ser" font-style="italic" font-size="100" fill="#111" stroke="#111" stroke-width="1.5">T</text>
<g transform="translate(13.00 128.00) rotate(-90)">
<text transform="translate(0.325 -0.150) scale(0.1500 0.1462)" class="ser" font-style="italic" font-size="100" fill="#111" stroke="#111" stroke-width="1.6">R</text>
<text transform="translate(10.358 -0.188) scale(0.1308 0.1375)" class="ser" font-style="italic" font-size="100" fill="#111" stroke="#111" stroke-width="1.6">e</text>
<text transform="translate(16.300 0.592) scale(0.1000 0.1673)" class="ser" font-style="normal" font-size="100" fill="#111" stroke="#111" stroke-width="1.6">[</text>
<text transform="translate(19.380 -0.095) scale(0.1344 0.1453)" class="ser" font-style="italic" font-size="100" fill="#111" stroke="#111" stroke-width="3">ω</text>
<text transform="translate(28.377 0.592) scale(0.1067 0.1673)" class="ser" font-style="normal" font-size="100" fill="#111" stroke="#111" stroke-width="1.6">]</text>
<text transform="translate(33.913 2.645) scale(0.1696 0.2045)" class="ser" font-style="italic" font-size="100" fill="#111" stroke="#111" stroke-width="1.6">/</text>
<text transform="translate(38.916 -0.150) scale(0.1436 0.1508)" class="ser" font-style="italic" font-size="100" fill="#111" stroke="#111" stroke-width="1.6">T</text>
</g>
<line x1="249.90" y1="144.30" x2="257.30" y2="144.30" stroke="#aa0000" stroke-width="0.75"/>
<text class="sans" transform="translate(261.50 145.90) scale(0.985 1)" font-size="7.60" fill="#151515">1st OQNM</text>
<line x1="302.90" y1="144.30" x2="310.30" y2="144.30" stroke="#ff5555" stroke-width="0.75"/>
<text class="sans" transform="translate(313.50 145.90) scale(0.985 1)" font-size="7.60" fill="#151515">2nd OQNM</text>
<line x1="249.90" y1="158.67" x2="257.30" y2="158.67" stroke="#0000aa" stroke-width="0.75"/>
<text class="sans" transform="translate(261.50 160.20) scale(0.985 1)" font-size="7.60" fill="#151515">3rd OQNM</text>
<line x1="302.90" y1="158.67" x2="310.30" y2="158.67" stroke="#5555ff" stroke-width="0.75"/>
<text class="sans" transform="translate(314.10 160.20) scale(0.985 1)" font-size="7.60" fill="#151515">4th OQNM</text>
<line x1="249.90" y1="173.04" x2="257.30" y2="173.04" stroke="#00aa00" stroke-width="0.75"/>
<text class="sans" transform="translate(261.50 174.50) scale(0.985 1)" font-size="7.60" fill="#151515">5th OQNM</text>
<line x1="302.90" y1="173.04" x2="310.30" y2="173.04" stroke="#55ff55" stroke-width="0.75"/>
<text class="sans" transform="translate(314.10 174.50) scale(0.985 1)" font-size="7.60" fill="#151515">6th OQNM</text>
<line x1="249.90" y1="187.41" x2="257.30" y2="187.41" stroke="#aa00aa" stroke-width="0.75"/>
<text class="sans" transform="translate(261.50 188.80) scale(0.985 1)" font-size="7.60" fill="#151515">7th OQNM</text>
<line x1="302.90" y1="187.41" x2="310.30" y2="187.41" stroke="#ff55ff" stroke-width="0.75"/>
<text class="sans" transform="translate(314.10 188.80) scale(0.985 1)" font-size="7.60" fill="#151515">8th OQNM</text>
<g style="mix-blend-mode:multiply"><rect x="0" y="0" width="1" height="1" fill="#fff"/></g>
</svg></body></html>
